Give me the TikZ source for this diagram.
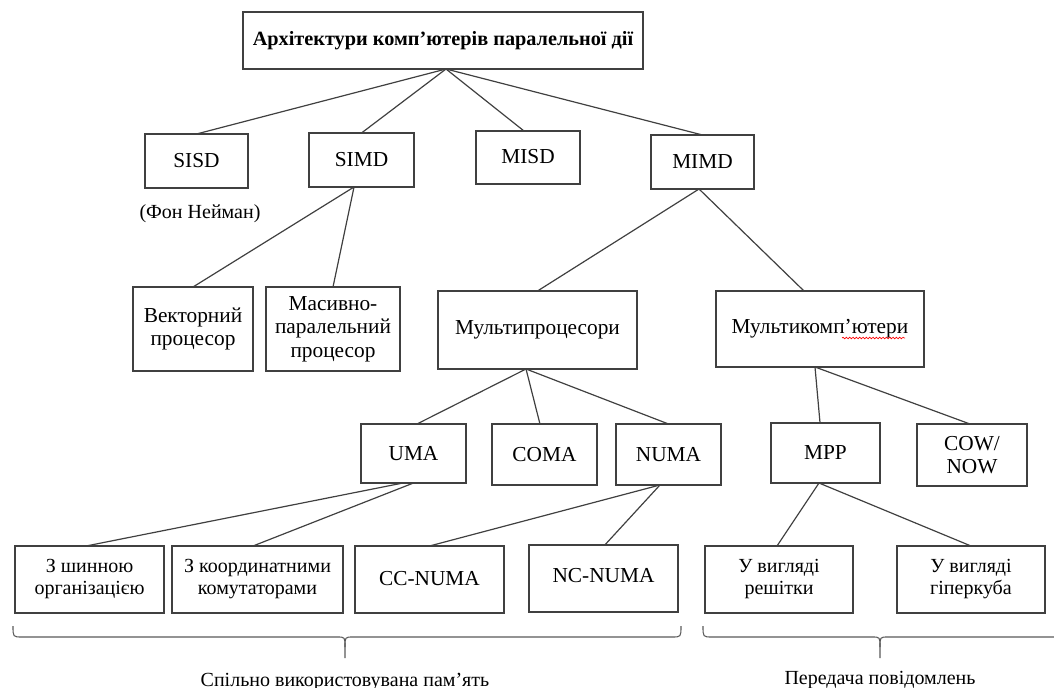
\documentclass[tikz,border=0pt]{standalone}
\usepackage{fontspec}
\setmainfont{Liberation Serif}
\usetikzlibrary{decorations.pathmorphing}
\newcommand\boxat[7][]{\node[box,#1, minimum width={(#5-#3)*0.75pt}, minimum height={(#6-#4)*0.75pt}] (#2) at ({(#3+#5)/2},{(#4+#6)/2}) {#7};}
\begin{document}
\begin{tikzpicture}[x=0.75pt,y=-0.75pt,
  box/.style={draw=black!75, line width=0.9pt, inner sep=0pt, outer sep=0pt, align=center, font=\fontsize{16}{17.5}\selectfont},
  small/.style={font=\fontsize{15}{16.5}\selectfont},
  conn/.style={draw=black!75, line width=0.9pt},
  brace/.style={draw=black!65, line width=0.8pt},
  lbl/.style={font=\fontsize{15}{17}\selectfont, inner sep=0pt}]
\useasboundingbox (0,0) rectangle (1054,688);

\boxat[font=\bfseries\fontsize{15.2}{17}\selectfont]{title}{243}{12}{643}{69}{Архітектури комп’ютерів паралельної дії}
\boxat{sisd}{145}{134}{248}{188}{SISD}
\boxat{simd}{309}{133}{414}{187}{SIMD}
\boxat{misd}{476}{131}{580}{184}{\raisebox{2pt}{MISD}}
\boxat{mimd}{651}{135}{754}{189}{MIMD}
\node[lbl] (fon) at (200,214) {(Фон Нейман)};
\boxat{vec}{133}{287}{253}{371}{Векторний\\процесор}
\boxat{mas}{266}{287}{400}{371}{Масивно-\\паралельний\\процесор}
\boxat{mp}{438}{291}{637}{369}{Мультипроцесори}
\boxat{mc}{716}{291}{924}{367}{Мультикомп’ютери}
\boxat{uma}{361}{424}{466}{483}{UMA}
\boxat{coma}{492}{424}{597}{485}{COMA}
\boxat{numa}{616}{424}{721}{485}{NUMA}
\boxat{mpp}{771}{423}{880}{483}{MPP}
\boxat{cow}{917}{424}{1027}{486}{COW/\\NOW}
\boxat[small]{b1}{15}{546}{164}{613}{З шинною\\організацією}
\boxat[small]{b2}{172}{546}{343}{613}{З координатними\\комутаторами}
\boxat{cc}{355}{546}{504}{613}{\raisebox{2pt}{CC-NUMA}}
\boxat{nc}{529}{545}{678}{612}{\raisebox{5pt}{NC-NUMA}}
\boxat[small]{grid}{705}{546}{853}{613}{У вигляді\\решітки}
\boxat[small]{hyp}{897}{546}{1045}{613}{У вигляді\\гіперкуба}

% connectors
\draw[conn] ([xshift=2.25pt]title.south) -- (sisd.north);
\draw[conn] ([xshift=2.25pt]title.south) -- (simd.north);
\draw[conn] ([xshift=2.25pt]title.south) -- ([xshift=-3pt]misd.north);
\draw[conn] ([xshift=2.25pt]title.south) -- (mimd.north);
\draw[conn] ([xshift=-5.6pt]simd.south) -- (vec.north);
\draw[conn] ([xshift=-5.6pt]simd.south) -- (mas.north);
\draw[conn] ([xshift=-2.6pt]mimd.south) -- (mp.north);
\draw[conn] ([xshift=-2.6pt]mimd.south) -- ([xshift=-12pt]mc.north);
\draw[conn] ([xshift=-8.6pt]mp.south) -- ([xshift=2.6pt]uma.north);
\draw[conn] ([xshift=-8.6pt]mp.south) -- ([xshift=-3.4pt]coma.north);
\draw[conn] ([xshift=-8.6pt]mp.south) -- (numa.north);
\draw[conn] ([xshift=-3.75pt]mc.south) -- ([xshift=-4.1pt]mpp.north);
\draw[conn] ([xshift=-3.75pt]mc.south) -- ([xshift=-1.5pt]cow.north);
\draw[conn] ([xshift=-7.9pt]uma.south) -- ([xshift=-2.6pt]b1.north);
\draw[conn] (uma.south) -- ([xshift=-3.4pt]b2.north);
\draw[conn] ([xshift=-6.4pt]numa.south) -- (cc.north);
\draw[conn] ([xshift=-6.4pt]numa.south) -- ([xshift=1pt]nc.north);
\draw[conn] ([xshift=-4.9pt]mpp.south) -- ([xshift=-1.5pt]grid.north);
\draw[conn] ([xshift=-4.9pt]mpp.south) -- (hyp.north);

% spell-check underline
\draw[red, line width=0.5pt, decorate, decoration={snake, amplitude=0.6pt, segment length=2.5pt}] (842,338) -- (905,338);

% braces
\draw[brace] (13,626) .. controls (13,637) .. (22,637) -- (337,637) .. controls (345,637) .. (345,647) -- (345,658);
\draw[brace] (345,647) .. controls (345,637) .. (353,637) -- (672,637) .. controls (681,637) .. (681,626);
\draw[brace] (703,626) .. controls (703,637) .. (712,637) -- (872,637) .. controls (880,637) .. (880,647) -- (880,658);
\draw[brace] (880,647) .. controls (880,637) .. (888,637) -- (1054,637);

\node[lbl, anchor=base] (shared) at (345,686) {Спільно використовувана пам’ять};
\node[lbl, anchor=base] (msg) at (880,684) {Передача повідомлень};
\end{tikzpicture}
\end{document}
